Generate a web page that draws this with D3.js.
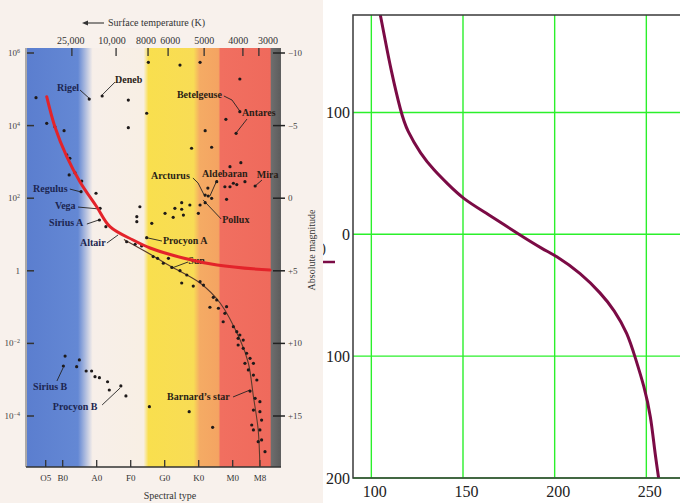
<!DOCTYPE html>
<html>
<head>
<meta charset="utf-8">
<script src="https://cdn.jsdelivr.net/npm/d3@7"></script>
<style>
  body { margin: 0; background: #fff; }
  svg { display: block; }
</style>
</head>
<body>
<svg id="chart" width="680" height="503"></svg>
<script>
// ---- right plot data ----
var curveX = [104.9, 107.5, 110.4, 116.2, 119.5, 126.9, 134.2, 141.5, 149.8, 163.1, 180.4,
              194.4, 200.2, 214.4, 225.3, 232.5, 239.8, 243.8, 248.9, 252.5, 254.3, 256.7];
var curveY = [180, 160, 137, 99.4, 85, 66, 52.5, 41.6, 29.3, 17, 0,
              -13, -17, -32, -48.6, -62, -81.4, -100.5, -125, -149.8, -175, -200];
var gridX = [100, 150, 200, 250];
var gridY = [100, 0, -100, -200];

// ---- HR diagram data (spectral index: O0=0, B0=10, A0=20 ... ; absolute magnitude) ----
var specLabels = ['O5', 'B0', 'A0', 'F0', 'G0', 'K0', 'M0', 'M8'];
var specPos = [5, 10, 20, 30, 40, 50, 60, 68];
var magTicks = [-10, -5, 0, 5, 10, 15];
var magLabels = ['\u221210', '\u22125', '0', '+5', '+10', '+15'];
var lumExp = ['6', '4', '2', '', '\u22122', '\u22124'];
var tempLabels = ['25,000', '10,000', '8000', '6000', '5000', '4000', '3000'];
var tempTickAt = [12.7, 25.7, 35.1, 41, 51.6, 63, 67.7];
var tempLabelAt = [12.4, 24.5, 34.5, 41.6, 51.6, 61.6, 70.4];

var stars = [
  [2.15, -6.92], [17.8, -6.83], [21.6, -7.04], [29.3, -6.76], [35.2, -9.36], [34.7, -5.85],
  [29.3, -4.86], [5.3, -5.16], [7.7, -4.92], [10.4, -4.65], [11.2, -2.98], [12.1, -2.75],
  [11.9, -1.6], [13.6, -1.76], [15.6, -1.18], [44.5, -9.17], [50.4, -9.36], [62.1, -8.21],
  [62.1, -5.96], [58.0, -5.43], [61.0, -4.47], [51.9, -4.65], [47.9, -3.44], [53.8, -3.51],
  [59.2, -2.17], [62.4, -2.45], [63.6, -1.14], [66.6, -0.84], [60.2, -1.03], [61.2, -0.94],
  [59.2, -0.79], [55.3, -1.14], [52.7, -0.70], [57.7, -0.79], [51.9, -0.22], [52.8, -0.15],
  [53.8, 0.01], [50.4, 0.47], [51.9, 0.31], [58.2, 0.08], [45.0, 0.31], [45.0, 0.76],
  [47.4, 0.47], [49.9, 1.04], [43.0, 0.70], [40.1, 1.04], [42.5, 1.32], [45.5, 1.16],
  [36.2, 1.73], [34.7, 2.72], [32.7, 0.59], [31.8, 1.27], [31.8, 1.62], [19.8, -0.34],
  [21.0, 0.70], [20.8, 1.50], [22.7, 1.96], [28.8, 3.0], [31.3, 3.17], [33.2, 3.29],
  [15.4, -0.45], [36.6, 4.02], [37.9, 4.14], [39.6, 4.48], [41.1, 4.14], [42.1, 4.77],
  [44.5, 4.99], [46.5, 5.29], [45.0, 5.84], [48.4, 6.05], [50.4, 5.75], [51.4, 5.98],
  [54.3, 6.83], [55.3, 7.01], [53.3, 7.51], [55.8, 7.58], [58.2, 7.47], [57.7, 7.93],
  [57.2, 8.51], [60.2, 8.85], [61.2, 9.19], [62.1, 9.42], [61.6, 9.65], [63.1, 9.77],
  [61.6, 10.11], [63.1, 10.34], [64.1, 10.68], [65.1, 11.03], [63.6, 11.37], [66.1, 11.37],
  [64.6, 11.83], [66.1, 12.18], [67.1, 12.52], [65.1, 13.28], [66.6, 13.78], [68.0, 14.01],
  [66.1, 14.59], [68.0, 14.70], [68.5, 15.28], [65.6, 15.62], [66.1, 15.96], [68.0, 15.96],
  [68.5, 16.65], [67.5, 16.77], [69.5, 17.46],
  [10.7, 10.87], [10.2, 11.56], [14.1, 11.6], [14.9, 11.14], [16.9, 11.9], [18.5, 11.9],
  [19.5, 12.29], [20.8, 12.36], [23.2, 12.64], [23.7, 13.21], [27.1, 12.93], [28.6, 13.62],
  [35.5, 14.36], [47.2, 14.70], [54.1, 15.78]
];

var redCurve = [[5.3, -6.99], [7.7, -4.92], [11.2, -2.86], [15.1, -1.12], [20.0, 0.59],
                [23.9, 1.96], [30.7, 2.88], [35.7, 3.43], [45.4, 4.12], [55.4, 4.6], [71.0, 4.95]];
var mainSeq = [[28.0, 2.85], [36.6, 3.98], [41.6, 4.67], [50.4, 5.84], [56.3, 7.22],
               [62.2, 9.77], [64.6, 11.35], [66.1, 13.67], [67.5, 15.96], [68.0, 18.5]];

var starNames = ['Rigel', 'Deneb', 'Betelgeuse', 'Antares', 'Mira', 'Aldebaran', 'Arcturus',
                 'Pollux', 'Procyon A', 'Sun', 'Regulus', 'Vega', 'Sirius A', 'Altair',
                 'Sirius B', 'Procyon B', 'Barnard\u2019s star'];
var nameAt = [[8.3, -7.38], [25.4, -7.93], [43.6, -6.9], [62.7, -5.66], [67.1, -1.39],
              [51.0, -1.46], [36.0, -1.32], [56.9, 1.71], [39.5, 3.15], [46.9, 4.53],
              [1.3, -0.43], [7.7, 0.74], [6.0, 1.91], [15.1, 3.29], [1.3, 13.21],
              [7.1, 14.59], [40.7, 13.9]];
var pointers = [
  [[15.1, -7.45], [17.8, -6.88]],
  [[25.4, -8.0], [21.6, -7.11]],
  [[57.4, -7.04], [59.8, -6.76], [62.1, -6.0]],
  [[64.2, -5.45], [61.0, -4.49]],
  [[68.6, -1.25], [66.6, -0.84]],
  [[55.4, -1.25], [53.3, -0.15]],
  [[48.3, -1.39], [49.8, -1.05], [51.9, -0.08]],
  [[56.6, 1.43], [51.3, 0.12]],
  [[39.2, 2.95], [35.1, 2.74]],
  [[46.9, 4.39], [42.1, 4.81]],
  [[12.1, -0.63], [15.4, -0.43]],
  [[14.5, 0.61], [20.7, 0.74]],
  [[17.1, 1.78], [20.6, 1.50]],
  [[23.0, 3.09], [26.3, 2.53]],
  [[8.3, 12.59], [10.1, 11.69]],
  [[21.6, 14.24], [26.9, 13.07]],
  [[60.1, 13.69], [65.1, 13.21]]
];

var bandStops = [-0.5, 14.5, 18.8, 33.8, 35.2, 48.5, 50.3, 55.8, 56.4, 71.0, 71.4, 74.2];
var bandColors = ['#5b7ecf', '#6488d4', '#f7efe9', '#f8efe4', '#f9df4e', '#f8dc55',
                  '#f5ab64', '#f4a462', '#f16f60', '#ef6a5c', '#6d6d6d', '#5c5c5c'];

var svg = d3.select('#chart');
var serif = '"Liberation Serif", "DejaVu Serif", serif';
var defs = svg.append('defs');

// ================= right plot =================
var x = d3.scaleLinear().domain([90, 270]).range([353, 683]);
var y = d3.scaleLinear().domain([-200, 180]).range([478, 15]);

defs.append('clipPath').attr('id', 'plotClip')
    .append('rect').attr('x', 353).attr('y', 15).attr('width', 340).attr('height', 463);

var grid = svg.append('g').attr('stroke', '#2bf02b').attr('stroke-width', 1.4);
grid.selectAll('.gx').data(gridX).enter().append('line')
    .attr('x1', function(d) { return x(d); }).attr('x2', function(d) { return x(d); })
    .attr('y1', y.range()[1]).attr('y2', y.range()[0]);
grid.selectAll('.gy').data(gridY).enter().append('line')
    .attr('y1', function(d) { return y(d); }).attr('y2', function(d) { return y(d); })
    .attr('x1', 353).attr('x2', 690);

var curveData = curveX.map(function(v, i) { return [v, curveY[i]]; });
svg.append('path')
    .datum(curveData)
    .attr('clip-path', 'url(#plotClip)')
    .attr('fill', 'none')
    .attr('stroke', '#7b0b45')
    .attr('stroke-width', 3)
    .attr('d', d3.line()
        .x(function(d) { return x(d[0]); })
        .y(function(d) { return y(d[1]); })
        .curve(d3.curveBasis));

// frame
svg.append('rect').attr('x', 353).attr('y', 15).attr('width', 340).attr('height', 463)
    .attr('fill', 'none').attr('stroke', '#3a3a3a').attr('stroke-width', 1.5);

var yAxis = svg.append('g').attr('transform', 'translate(353,0)')
    .call(d3.axisLeft(y).tickValues(gridY).tickSize(0).tickPadding(3)
        .tickFormat(function(d) { return Math.abs(d); }));
var xAxis = svg.append('g').attr('transform', 'translate(0,478)')
    .call(d3.axisBottom(x).tickValues(gridX).tickSize(0).tickPadding(8));
[yAxis, xAxis].forEach(function(a) {
  a.select('.domain').remove();
  a.selectAll('text').attr('font-family', serif).attr('font-size', 16).attr('fill', '#222');
});
xAxis.selectAll('text').attr('dx', 3);

// partly hidden legend of the right plot
svg.append('text').attr('x', 321).attr('y', 253).attr('font-family', serif)
    .attr('font-size', 15).attr('fill', '#333').text(')');
svg.append('line').attr('x1', 318).attr('x2', 335).attr('y1', 262).attr('y2', 262)
    .attr('stroke', '#7b0b45').attr('stroke-width', 2.5);

// ================= left HR diagram =================
var sx = d3.scaleLinear().domain([0, 70]).range([28.7, 266.7]);
var sy = d3.scaleLinear().domain([-10, 15]).range([53, 416]);
var hrTop = 48, hrBottom = 467, hrLeft = sx(-0.5), hrRight = sx(74.2);

var hr = svg.append('g');
hr.append('rect').attr('x', 0).attr('y', 0).attr('width', 323).attr('height', 503)
    .attr('fill', '#f8f1ec');

var grad = defs.append('linearGradient').attr('id', 'bands')
    .attr('gradientUnits', 'userSpaceOnUse')
    .attr('x1', hrLeft).attr('x2', hrRight).attr('y1', 0).attr('y2', 0);
grad.selectAll('stop').data(bandStops).enter().append('stop')
    .attr('offset', function(d) { return (sx(d) - hrLeft) / (hrRight - hrLeft); })
    .attr('stop-color', function(d, i) { return bandColors[i]; });

hr.append('rect').attr('x', hrLeft).attr('y', hrTop).attr('width', hrRight - hrLeft)
    .attr('height', hrBottom - hrTop).attr('fill', 'url(#bands)');

// axes lines
hr.append('line').attr('x1', hrLeft - 1).attr('x2', hrLeft - 1).attr('y1', hrTop).attr('y2', hrBottom)
    .attr('stroke', '#7a7a7a').attr('stroke-width', 1.2);
hr.append('line').attr('x1', hrLeft - 1).attr('x2', hrRight).attr('y1', hrBottom).attr('y2', hrBottom)
    .attr('stroke', '#333').attr('stroke-width', 1.6);

// left ticks and luminosity labels
hr.selectAll('.lt').data(magTicks).enter().append('line')
    .attr('x1', hrLeft).attr('x2', hrLeft + 7)
    .attr('y1', function(d) { return sy(d); }).attr('y2', function(d) { return sy(d); })
    .attr('stroke', '#333').attr('stroke-width', 1.5);
var lumText = hr.selectAll('.ll').data(magTicks).enter().append('text')
    .attr('x', 20).attr('y', function(d) { return sy(d) + 3; })
    .attr('text-anchor', 'end').attr('font-family', serif).attr('font-size', 9)
    .attr('fill', '#444');
lumText.each(function(d, i) {
  var t = d3.select(this);
  if (lumExp[i] === '') { t.text('1'); return; }
  t.append('tspan').text('10');
  t.append('tspan').attr('dy', -3).attr('font-size', 6).text(lumExp[i]);
});

// right ticks and magnitude labels
hr.selectAll('.rt').data(magTicks).enter().append('line')
    .attr('x1', hrRight - 8).attr('x2', hrRight + 4)
    .attr('y1', function(d) { return sy(d); }).attr('y2', function(d) { return sy(d); })
    .attr('stroke', '#222').attr('stroke-width', 1.5);
hr.selectAll('.rl').data(magTicks).enter().append('text')
    .attr('x', hrRight + 7).attr('y', function(d) { return sy(d) + 3; })
    .attr('font-family', serif).attr('font-size', 9).attr('fill', '#444')
    .text(function(d, i) { return magLabels[i]; });

// top temperature ticks
hr.selectAll('.tt').data(tempTickAt).enter().append('line')
    .attr('x1', function(d) { return sx(d); }).attr('x2', function(d) { return sx(d); })
    .attr('y1', hrTop).attr('y2', hrTop + 8)
    .attr('stroke', '#333').attr('stroke-width', 1.3);
hr.selectAll('.tl').data(tempLabels).enter().append('text')
    .attr('x', function(d, i) { return sx(tempLabelAt[i]); }).attr('y', 44)
    .attr('text-anchor', 'middle').attr('font-family', serif).attr('font-size', 10)
    .attr('fill', '#333').text(function(d) { return d; });
hr.append('text').attr('x', 108).attr('y', 26).attr('font-family', serif)
    .attr('font-size', 10).attr('fill', '#333').text('Surface temperature (K)');
hr.append('line').attr('x1', 86).attr('x2', 104).attr('y1', 23).attr('y2', 23)
    .attr('stroke', '#333').attr('stroke-width', 1.1);
hr.append('path').attr('d', 'M82,23 L88,20.5 L88,25.5 Z').attr('fill', '#333');

// bottom spectral ticks
hr.selectAll('.bt').data(specPos).enter().append('line')
    .attr('x1', function(d) { return sx(d); }).attr('x2', function(d) { return sx(d); })
    .attr('y1', hrBottom - 7).attr('y2', hrBottom)
    .attr('stroke', '#333').attr('stroke-width', 1.3);
hr.selectAll('.bl').data(specLabels).enter().append('text')
    .attr('x', function(d, i) { return sx(specPos[i]); }).attr('y', 481)
    .attr('text-anchor', 'middle').attr('font-family', serif).attr('font-size', 9)
    .attr('fill', '#333').text(function(d) { return d; });
hr.append('text').attr('x', 170).attr('y', 499).attr('text-anchor', 'middle')
    .attr('font-family', serif).attr('font-size', 10).attr('fill', '#333')
    .text('Spectral type');
hr.append('text').attr('transform', 'translate(315,250) rotate(-90)')
    .attr('text-anchor', 'middle').attr('font-family', serif).attr('font-size', 10)
    .attr('fill', '#333').text('Absolute magnitude');

var hrLine = d3.line()
    .x(function(d) { return sx(d[0]); })
    .y(function(d) { return sy(d[1]); });

// main sequence line
hr.append('path').datum(mainSeq).attr('fill', 'none').attr('stroke', '#5a3b2c')
    .attr('stroke-width', 1.1).attr('d', hrLine.curve(d3.curveCatmullRom));

// pointers
hr.selectAll('.ptr').data(pointers).enter().append('path')
    .attr('fill', 'none').attr('stroke', '#222').attr('stroke-width', 0.9)
    .attr('d', d3.line()
        .x(function(d) { return sx(d[0]); })
        .y(function(d) { return sy(d[1]); }));

// stars
hr.selectAll('.star').data(stars).enter().append('circle')
    .attr('cx', function(d) { return sx(d[0]); })
    .attr('cy', function(d) { return sy(d[1]); })
    .attr('r', 1.6).attr('fill', '#1e1a1a');

// star names
hr.selectAll('.name').data(starNames).enter().append('text')
    .attr('x', function(d, i) { return sx(nameAt[i][0]); })
    .attr('y', function(d, i) { return sy(nameAt[i][1]); })
    .attr('font-family', serif).attr('font-size', 10).attr('font-weight', 'bold')
    .attr('fill', function(d, i) { return nameAt[i][0] < 16 ? '#1c2550' : '#2a1e16'; })
    .text(function(d) { return d; });

// red curve drawn last, it runs over the "Sun" label
hr.append('path').datum(redCurve).attr('fill', 'none').attr('stroke', '#e3232a')
    .attr('stroke-width', 3).attr('stroke-linecap', 'round')
    .attr('d', d3.line()
        .x(function(d) { return sx(d[0]); })
        .y(function(d) { return sy(d[1]); })
        .curve(d3.curveCatmullRom));
</script>
</body>
</html>
